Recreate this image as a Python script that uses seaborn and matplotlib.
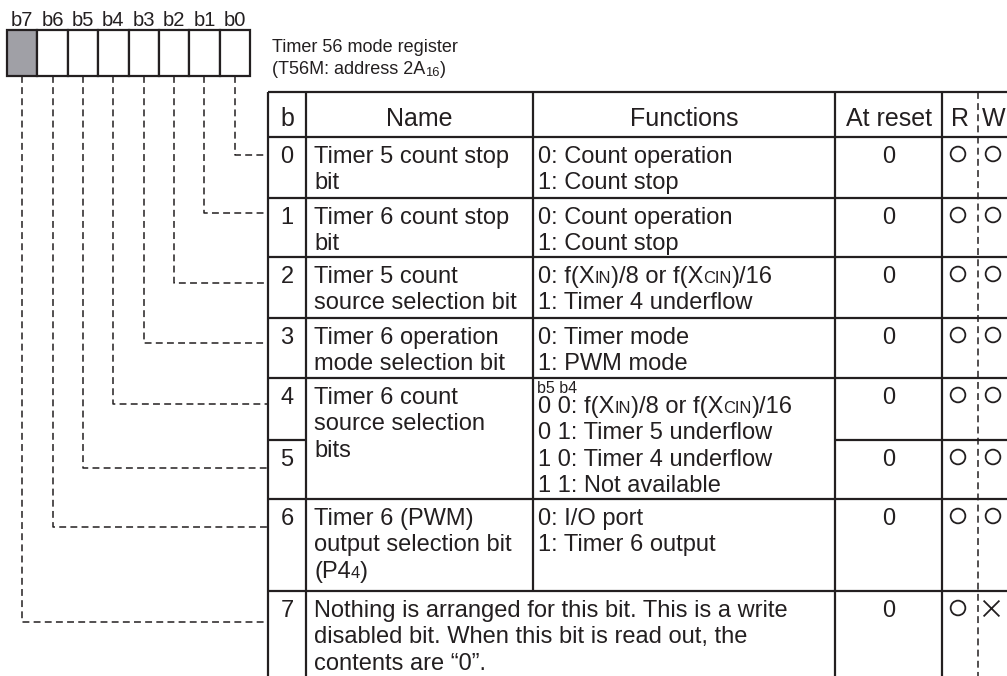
import re
import matplotlib
matplotlib.use('Agg')
import matplotlib.pyplot as plt
import seaborn as sns

sns.set_style('white')
plt.rcParams['font.family'] = ['Liberation Sans', 'DejaVu Sans']

# register contents
bit_labels = ['b7', 'b6', 'b5', 'b4', 'b3', 'b2', 'b1', 'b0']
unused_bits = ['b7']
title_lines = ['Timer 56 mode register', '(T56M: address 2A_{16})']
headers = ['b', 'Name', 'Functions', 'At reset', 'R', 'W']
row_bits = ['0', '1', '2', '3', '4', '5', '6', '7']
names = [
    ['Timer 5 count stop', 'bit'],
    ['Timer 6 count stop', 'bit'],
    ['Timer 5 count', 'source selection bit'],
    ['Timer 6 operation', 'mode selection bit'],
    ['Timer 6 count', 'source selection', 'bits'],
    None,
    ['Timer 6 (PWM)', 'output selection bit', '(P4_{4})'],
    ['Nothing is arranged for this bit. This is a write',
     'disabled bit. When this bit is read out, the',
     'contents are \u201c0\u201d.'],
]
functions = [
    ['0: Count operation', '1: Count stop'],
    ['0: Count operation', '1: Count stop'],
    ['0: f(X_{IN})/8 or f(X_{CIN})/16', '1: Timer 4 underflow'],
    ['0: Timer mode', '1: PWM mode'],
    ['0 0: f(X_{IN})/8 or f(X_{CIN})/16', '0 1: Timer 5 underflow',
     '1 0: Timer 4 underflow', '1 1: Not available'],
    None,
    ['0: I/O port', '1: Timer 6 output'],
    None,
]
func4_head = 'b5 b4'
at_reset = ['0', '0', '0', '0', '0', '0', '0', '0']
read = ['o', 'o', 'o', 'o', 'o', 'o', 'o', 'o']
write = ['o', 'o', 'o', 'o', 'o', 'o', 'o', 'x']

# layout (pixels)
row_top = [137, 198, 257, 318, 378, 440, 499, 591]
conn_y = [155, 213, 283, 343, 404, 468, 527, 622]
col_x = [268, 306, 533, 835, 942, 978]
tab_top, bottom = 92, 676
reg_x0, reg_x1, reg_y0, reg_y1 = 7, 250, 30, 76

ink = '#231f20'
W, H = 1007, 676
fig = plt.figure(figsize=(W / 100, H / 100), dpi=100)
ax = fig.add_axes([0, 0, 1, 1])
ax.set_xlim(0, W)
ax.set_ylim(H, 0)
ax.axis('off')
renderer = fig.canvas.get_renderer()

body = 17
head = 18
lh = 26.3


def rich(x, y, s, size, small=0.7, drop=0.0, **kw):
    for m in re.finditer(r'_\{([^}]*)\}|[^_]+', s):
        sm = m.group(1) is not None
        txt = m.group(1) if sm else m.group(0)
        t = ax.text(x, y + (drop if sm else 0), txt, fontsize=size * small if sm else size,
                    va='baseline', ha='left', color=ink, **kw)
        x += t.get_window_extent(renderer).width


# register box
cw = (reg_x1 - reg_x0) / len(bit_labels)
for i, lab in enumerate(bit_labels):
    x0 = reg_x0 + i * cw
    fc = '#a0a0a6' if lab in unused_bits else 'white'
    ax.add_patch(plt.Rectangle((x0, reg_y0), cw, reg_y1 - reg_y0, fc=fc, ec=ink, lw=1.6))
    ax.text(x0 + cw / 2, 26, lab, fontsize=14.5, ha='center', va='baseline', color=ink)

rich(272, 52, title_lines[0], 13)
rich(272, 74, title_lines[1], 13, small=0.72, drop=2)

# connectors from each bit cell to its row
for i, lab in enumerate(bit_labels):
    bit = int(lab[1])
    xc = reg_x0 + (i + 0.5) * cw
    y = conn_y[bit]
    ax.plot([xc, xc, col_x[0]], [reg_y1, y, y], color=ink, lw=1.1,
            ls=(0, (4.5, 2.8)), solid_capstyle='butt')

# table grid
lw = 1.6
ax.hlines(tab_top, col_x[0], W, color=ink, lw=lw)
ax.hlines(row_top[0], col_x[0], W, color=ink, lw=lw)
for b, y in enumerate(row_top[1:], start=1):
    if b == 5:
        ax.hlines(y, col_x[0], col_x[1], color=ink, lw=lw)
        ax.hlines(y, col_x[3], W, color=ink, lw=lw)
    else:
        ax.hlines(y, col_x[0], W, color=ink, lw=lw)
for k, x in enumerate(col_x[:5]):
    y1 = row_top[7] if k == 2 else bottom
    ax.vlines(x, tab_top, y1, color=ink, lw=lw)
ax.plot([col_x[5], col_x[5]], [tab_top, bottom], color=ink, lw=1.1, ls=(0, (4.5, 2.8)))

# header
hy = 126
for k in range(5):
    ax.text((col_x[k] + col_x[k + 1]) / 2, hy, headers[k], fontsize=head, ha='center',
            va='baseline', color=ink)
ax.text(col_x[5] + 4, hy, headers[5], fontsize=head, ha='left', va='baseline', color=ink)

# rows
for b in range(8):
    top = row_top[b]
    base = top + 26
    ax.text((col_x[0] + col_x[1]) / 2, base, row_bits[b], fontsize=body, ha='center',
            va='baseline', color=ink)
    if names[b] is not None:
        for j, line in enumerate(names[b]):
            rich(col_x[1] + 8, base + j * lh, line, body)
    if functions[b] is not None:
        if b == 4:
            ax.text(col_x[2] + 4, top + 15, func4_head, fontsize=11.5, ha='left',
                    va='baseline', color=ink)
            fy = top + 35
        else:
            fy = base
        for j, line in enumerate(functions[b]):
            rich(col_x[2] + 5, fy + j * lh, line, body)
    ax.text((col_x[3] + col_x[4]) / 2, base, at_reset[b], fontsize=body, ha='center',
            va='baseline', color=ink)
    ym = top + 17
    for xm, v in ((958, read[b]), (993, write[b])):
        if v == 'o':
            ax.scatter([xm], [ym], marker='o', s=112, facecolors='none', edgecolors=ink,
                       linewidths=1.3)
        else:
            ax.scatter([xm - 2], [ym], marker='x', s=130, color=ink, linewidths=1.3)

fig.savefig('out.png', dpi=100)
